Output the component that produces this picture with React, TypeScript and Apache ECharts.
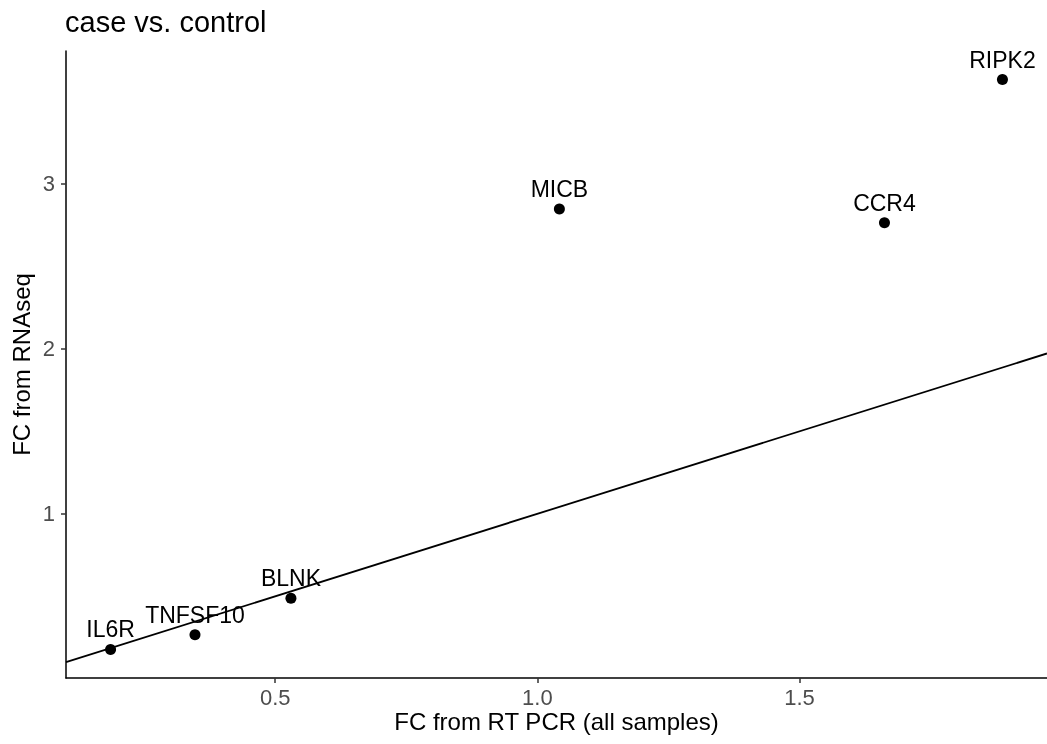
import React, { useEffect, useRef } from "react";
import * as echarts from "echarts";

const genes = ["IL6R", "TNFSF10", "BLNK", "MICB", "CCR4", "RIPK2"];
const fcRtPcr = [0.186, 0.347, 0.530, 1.042, 1.662, 1.887];
const fcRnaSeq = [0.178, 0.267, 0.489, 2.848, 2.764, 3.632];
const xTicks = [0.5, 1.0, 1.5];
const yTicks = [1, 2, 3];
const xRange = [0.101, 1.972];
const yRange = [0.005, 3.805];
// identity reference line y = x across the panel
const refLineX = [0.101, 1.972];
const refLineY = [0.101, 1.972];

export default function App() {
  const ref = useRef<HTMLDivElement>(null);
  useEffect(() => {
    if (!ref.current) return;
    const chart = echarts.init(ref.current, null, { renderer: "svg" });
    const font = "'Liberation Sans', Arial, Helvetica, sans-serif";
    chart.setOption({
      animation: false,
      textStyle: { fontFamily: font },
      title: {
        text: "case vs. control",
        left: 60,
        top: 2,
        textStyle: { fontFamily: font, fontSize: 29, fontWeight: "normal", color: "#000" },
      },
      grid: { left: 66, right: 0, top: 51, bottom: 66, containLabel: false, outerBoundsMode: "none" },
      xAxis: {
        type: "value",
        min: xRange[0],
        max: xRange[1],
        name: "FC from RT PCR (all samples)",
        nameLocation: "middle",
        nameGap: 33,
        nameMoveOverlap: false,
        nameTextStyle: { fontFamily: font, fontSize: 24, lineHeight: 20, color: "#000" },
        splitLine: { show: false },
        axisLine: { show: true, onZero: false, lineStyle: { color: "#000", width: 1.5 } },
        axisTick: { show: true, length: 5, lineStyle: { color: "#333", width: 1.5 }, customValues: xTicks },
        axisLabel: {
          customValues: xTicks,
          fontFamily: font,
          fontSize: 22,
          lineHeight: 18,
          color: "#4d4d4d",
          margin: 10,
          formatter: (v: number) => v.toFixed(1),
        },
      },
      yAxis: {
        type: "value",
        min: yRange[0],
        max: yRange[1],
        name: "FC from RNAseq",
        nameLocation: "middle",
        nameGap: 33,
        nameMoveOverlap: false,
        nameTextStyle: { fontFamily: font, fontSize: 24, color: "#000" },
        splitLine: { show: false },
        axisLine: { show: true, onZero: false, lineStyle: { color: "#000", width: 1.5 } },
        axisTick: { show: true, length: 5, lineStyle: { color: "#333", width: 1.5 }, customValues: yTicks },
        axisLabel: {
          customValues: yTicks,
          fontFamily: font,
          fontSize: 22,
          color: "#4d4d4d",
          margin: 11,
          formatter: (v: number) => String(v),
        },
      },
      series: [
        {
          type: "line",
          data: refLineX.map((x, i) => [x, refLineY[i]]),
          showSymbol: false,
          symbol: "none",
          lineStyle: { color: "#000", width: 1.8 },
          silent: true,
          z: 1,
        },
        {
          type: "scatter",
          data: fcRtPcr.map((x, i) => ({ value: [x, fcRnaSeq[i]], name: genes[i] })),
          symbol: "circle",
          symbolSize: 11,
          itemStyle: { color: "#000", opacity: 1 },
          label: {
            show: true,
            position: "top",
            distance: 3,
            formatter: (p: any) => p.name,
            fontFamily: font,
            fontSize: 23,
            color: "#000",
          },
          z: 2,
        },
      ],
    });
    return () => chart.dispose();
  }, []);
  return (
    <div
      ref={ref}
      style={{ position: "fixed", left: 0, top: 0, width: 1047, height: 744 }}
    />
  );
}
